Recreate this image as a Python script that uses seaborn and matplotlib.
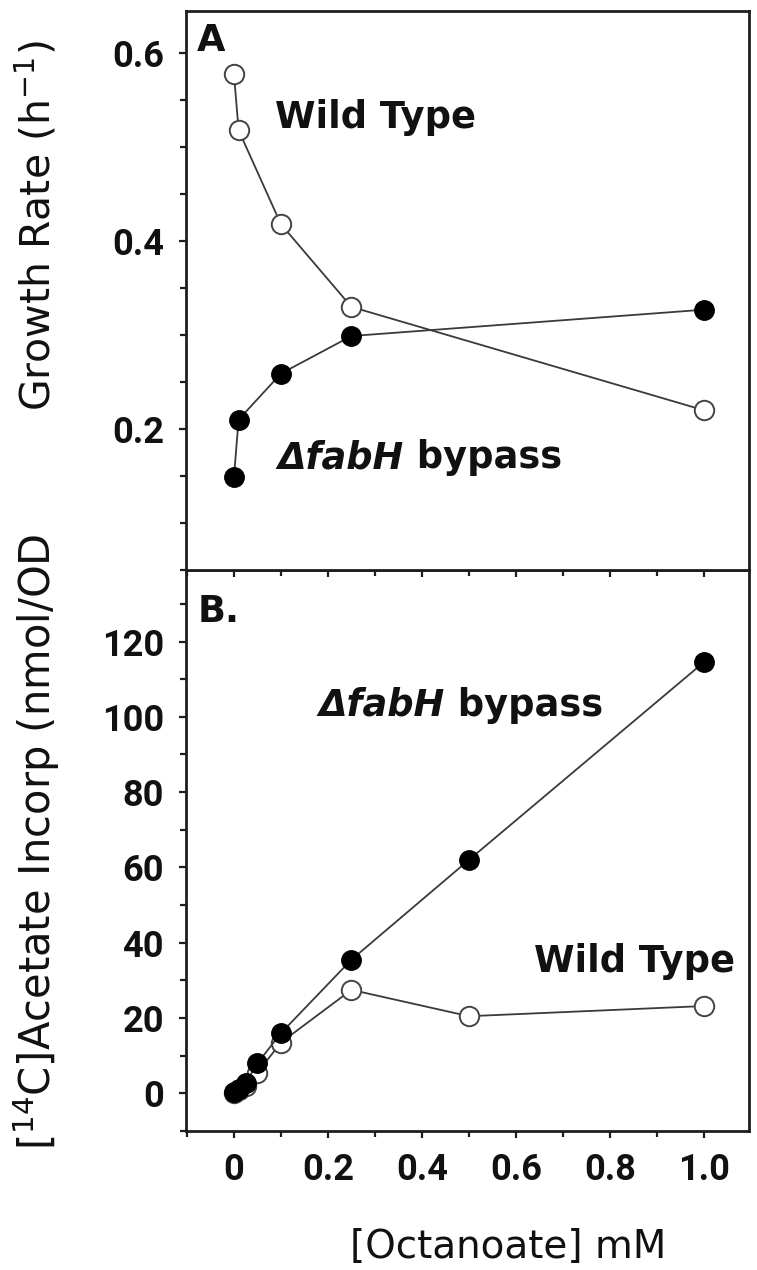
import numpy as np
import pandas as pd
import matplotlib
matplotlib.use("Agg")
import matplotlib.pyplot as plt
import seaborn as sns
from matplotlib.ticker import MultipleLocator

# ---------------- data ----------------
# Panel A: growth rate (h^-1) vs octanoate (mM)
octA = [0.0, 0.01, 0.1, 0.25, 1.0]
growth_wt = [0.578, 0.518, 0.418, 0.330, 0.220]
growth_fabh = [0.149, 0.210, 0.259, 0.299, 0.327]

# Panel B: [14C]acetate incorporation (nmol/OD) vs octanoate (mM)
octB = [0.0, 0.01, 0.025, 0.05, 0.1, 0.25, 0.5, 1.0]
incorp_wt = [0.2, 0.8, 2.0, 5.5, 13.5, 27.5, 20.5, 23.2]
incorp_fabh = [0.3, 1.2, 2.8, 8.0, 16.0, 35.5, 62.0, 114.5]

xticks = [0.0, 0.2, 0.4, 0.6, 0.8, 1.0]
xticklabels = ["0", "0.2", "0.4", "0.6", "0.8", "1.0"]
yticksA = [0.2, 0.4, 0.6]
yticklabelsA = ["0.2", "0.4", "0.6"]
yticksB = [0, 20, 40, 60, 80, 100, 120]
yticklabelsB = ["0", "20", "40", "60", "80", "100", "120"]

# ---------------- style ----------------
sns.set_theme(style="ticks")
plt.rcParams["font.family"] = ["DejaVu Sans"]

LINE = "#3a3a3a"
SPINE = "#1e1e1e"
TICKFONT = dict(fontfamily="Roboto", fontweight="bold", fontsize=26, color="#111111")
ANNFONT = dict(fontsize=26.5, fontweight="bold", color="#111111")

fig = plt.figure(figsize=(7.57, 12.70), dpi=100)
axA = fig.add_axes([0.2457, 0.5512, 0.7437, 0.4402])
axB = fig.add_axes([0.2457, 0.1094, 0.7437, 0.4418])
axA.set_zorder(3)

def draw(ax, x, y, filled):
    df = pd.DataFrame({"x": x, "y": y})
    sns.lineplot(data=df, x="x", y="y", ax=ax, estimator=None, sort=False,
                 color=LINE, lw=1.3, marker="o", markersize=14,
                 markerfacecolor=("black" if filled else "white"),
                 markeredgecolor=("black" if filled else "#444444"),
                 markeredgewidth=(1.0 if filled else 1.4), legend=False)

draw(axA, octA, growth_wt, False)
draw(axA, octA, growth_fabh, True)
draw(axB, octB, incorp_wt, False)
draw(axB, octB, incorp_fabh, True)

for ax in (axA, axB):
    ax.set_xlim(-0.102, 1.096)
    ax.set_xlabel("")
    ax.set_ylabel("")
    for s in ax.spines.values():
        s.set_visible(True)
        s.set_linewidth(2.0)
        s.set_color(SPINE)
    ax.tick_params(axis="both", which="major", length=5, width=1.6, color=SPINE)
    ax.tick_params(axis="both", which="minor", length=4, width=1.6, color=SPINE)
    ax.tick_params(axis="y", which="both", direction="out", pad=11)

# Panel A axes
axA.set_ylim(0.05, 0.645)
axA.set_yticks(yticksA, labels=yticklabelsA, **TICKFONT)
axA.yaxis.set_minor_locator(MultipleLocator(0.05))
axA.set_xticks(xticks)
axA.xaxis.set_minor_locator(MultipleLocator(0.1))
axA.tick_params(axis="x", which="both", direction="out", bottom=True,
                labelbottom=False)

# Panel B axes
axB.set_ylim(-10, 139)
axB.set_yticks(yticksB, labels=yticklabelsB, **TICKFONT)
axB.yaxis.set_minor_locator(MultipleLocator(10))
axB.set_xticks(xticks, labels=xticklabels, **TICKFONT)
axB.xaxis.set_minor_locator(MultipleLocator(0.1))
axB.tick_params(axis="x", which="both", direction="out", pad=10)

# panel letters and series annotations
axA.text(0.0195, 0.928, "A", transform=axA.transAxes, va="baseline", ha="left", **ANNFONT)
axA.text(0.158, 0.791, "Wild Type", transform=axA.transAxes, va="baseline", ha="left", **ANNFONT)
tA = axA.text(0.163, 0.182, "\u0394fabH", transform=axA.transAxes, va="baseline",
              ha="left", fontstyle="italic", **ANNFONT)
axA.annotate(" bypass", xy=(1, 0), xycoords=tA, va="bottom", ha="left", **ANNFONT)

axB.text(0.0213, 0.907, "B.", transform=axB.transAxes, va="baseline", ha="left", **ANNFONT)
tB = axB.text(0.236, 0.740, "\u0394fabH", transform=axB.transAxes, va="baseline",
              ha="left", fontstyle="italic", **ANNFONT)
axB.annotate(" bypass", xy=(1, 0), xycoords=tB, va="bottom", ha="left", **ANNFONT)
axB.text(0.618, 0.283, "Wild Type", transform=axB.transAxes, va="baseline", ha="left", **ANNFONT)

# axis titles
fig.text(0.049, 0.822, "Growth Rate (h$^{\\mathregular{-1}}$)", rotation=90,
         ha="center", va="center", fontsize=29.5, color="#111111")
fig.text(0.049, 0.337, "[$^{\\mathregular{14}}$C]Acetate Incorp (nmol/OD", rotation=90,
         ha="center", va="center", fontsize=30, color="#111111")
fig.text(0.671, 0.0095, "[Octanoate] mM", ha="center", va="baseline",
         fontsize=28, color="#111111")

fig.savefig("out.png", dpi=100, facecolor="white")
